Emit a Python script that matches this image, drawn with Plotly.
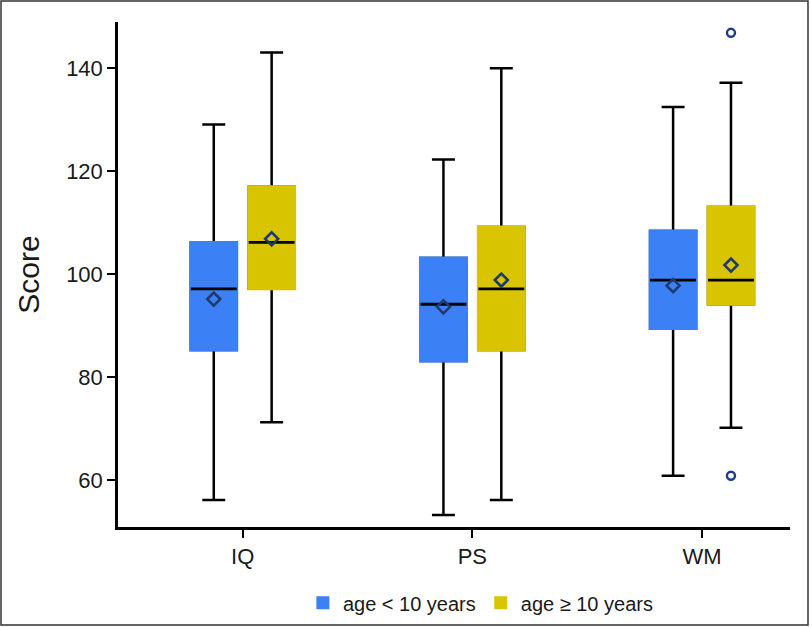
import plotly.graph_objects as go

categories = ["IQ", "PS", "WM"]
groups = ["age < 10 years", "age \u2265 10 years"]

# box statistics per group, in category order
q1_young = [85.3, 83.2, 89.5]
median_young = [97.2, 94.2, 98.9]
q3_young = [106.2, 103.2, 108.4]
lower_young = [56.2, 53.3, 60.9]
upper_young = [129.1, 122.3, 132.5]
mean_young = [95.2, 93.7, 97.8]

q1_old = [97.2, 85.3, 94.2]
median_old = [106.2, 97.2, 98.9]
q3_old = [117.0, 109.2, 113.1]
lower_old = [71.3, 56.2, 70.2]
upper_old = [143.1, 140.0, 137.2]
mean_old = [106.9, 98.9, 101.8]

outlier_cat = ["WM", "WM"]
outlier_vals = [146.9, 60.9]

colors = ["#3b80f5", "#d8c400"]
mean_color = "#1f3a6b"
outlier_color = "#1a3c8c"
FONT = "Liberation Sans, Arial, sans-serif"

L, R, T, B = 118, 22, 22, 100
W, H = 812, 627
pw, ph = W - L - R, H - T - B

offset = 0.126
box_w = 0.2
idx = {c: i for i, c in enumerate(categories)}

fig = go.Figure()

stats = [
    (q1_young, median_young, q3_young, lower_young, upper_young, mean_young),
    (q1_old, median_old, q3_old, lower_old, upper_old, mean_old),
]

for g, (q1, med, q3, lo, up, mn) in enumerate(stats):
    xs = [idx[c] + (-offset if g == 0 else offset) for c in categories]
    col = colors[g]
    # layer A: whiskers, caps, median (black)
    fig.add_trace(go.Box(x=xs, q1=q1, median=med, q3=q3, lowerfence=lo, upperfence=up,
                         width=box_w, fillcolor=col, line=dict(color="black", width=2.5),
                         boxpoints=False, showlegend=False, hoverinfo="skip"))
    # layer B: cover the black outline with the fill colour
    fig.add_trace(go.Box(x=xs, q1=q1, median=q3, q3=q3, lowerfence=q1, upperfence=q3,
                         width=box_w, fillcolor=col, line=dict(color=col, width=3),
                         whiskerwidth=0, boxpoints=False, showlegend=False, hoverinfo="skip"))
    # layer C: median line
    fig.add_trace(go.Box(x=xs, q1=med, median=med, q3=med, lowerfence=med, upperfence=med,
                         width=box_w, fillcolor="black", line=dict(color="black", width=2.8),
                         whiskerwidth=0, boxpoints=False, showlegend=False, hoverinfo="skip"))
    # means
    fig.add_trace(go.Scatter(x=xs, y=mn, mode="markers",
                             marker=dict(symbol="diamond-open", size=10, color=mean_color,
                                         line=dict(width=2.6, color=mean_color)),
                             showlegend=False, hoverinfo="skip"))

# outliers (older group)
fig.add_trace(go.Scatter(x=[idx[c] + offset for c in outlier_cat], y=outlier_vals, mode="markers",
                         marker=dict(symbol="circle-open", size=8, color=outlier_color,
                                     line=dict(width=2.4, color=outlier_color)),
                         showlegend=False, hoverinfo="skip"))

# legend entries
for g in range(2):
    fig.add_trace(go.Scatter(x=[None], y=[None], mode="markers", name=groups[g],
                             marker=dict(symbol="square", size=13, color=colors[g])))

fig.update_layout(
    width=W, height=H,
    margin=dict(l=L, r=R, t=T, b=B, autoexpand=False),
    paper_bgcolor="white", plot_bgcolor="white",
    font=dict(family=FONT, color="#1a1a1a"),
    showlegend=True,
    legend=dict(orientation="h", x=0.54, xanchor="center", y=-0.150, yanchor="middle",
                font=dict(size=20, family=FONT, color="#1a1a1a"), itemclick=False,
                bgcolor="rgba(0,0,0,0)"),
    xaxis=dict(range=[-0.543, 2.383], tickvals=list(range(len(categories))), ticktext=categories,
               showgrid=False, zeroline=False, showline=True, linecolor="black", linewidth=2.5,
               ticks="outside", ticklen=8, tickwidth=2, tickcolor="black",
               tickfont=dict(size=22, family=FONT)),
    yaxis=dict(range=[50.95, 149.0], tickvals=[60, 80, 100, 120, 140],
               showgrid=False, zeroline=False, showline=True, linecolor="black", linewidth=2.5,
               ticks="outside", ticklen=8, tickwidth=2, tickcolor="black",
               tickfont=dict(size=22, family=FONT),
               title=dict(text="Score", font=dict(size=30, family=FONT), standoff=18)),
    shapes=[dict(type="rect", xref="paper", yref="paper",
                 x0=(1 - L) / pw, x1=1 + (R - 4) / pw,
                 y0=-(B - 2) / ph, y1=1 + (T - 1) / ph,
                 line=dict(color="#333333", width=1.5), fillcolor="rgba(0,0,0,0)", layer="below")],
)

fig.write_html("out.html", config={"displayModeBar": False},
               post_script="document.body.style.margin='0';")
